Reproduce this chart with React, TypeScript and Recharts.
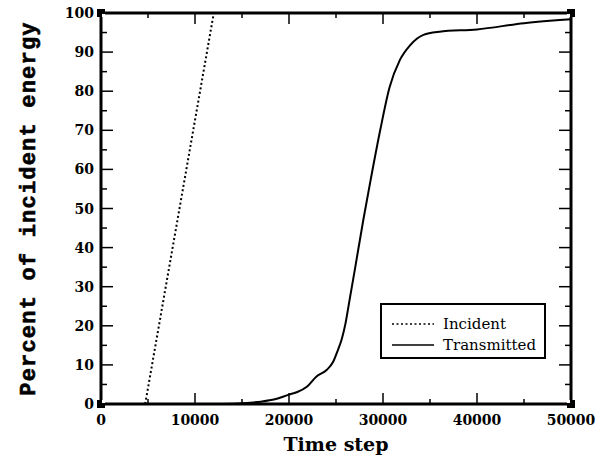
import {
  LineChart,
  Line,
  XAxis,
  YAxis,
  ReferenceArea,
  ReferenceDot,
  Legend,
  Label,
} from "recharts";

const X_TICKS = [0, 5000, 10000, 15000, 20000, 25000, 30000, 35000, 40000, 45000, 50000];
const Y_TICKS = [0, 5, 10, 15, 20, 25, 30, 35, 40, 45, 50, 55, 60, 65, 70, 75, 80, 85, 90, 95, 100];

const INCIDENT_X = [4700, 12000];
const INCIDENT_Y = [0, 100];

const TRANSMITTED_X = [
  13000, 15000, 17000, 18500, 20000, 20800, 21900, 22900, 24000, 24700, 25200, 25600, 26000,
  26400, 27000, 27900, 28700, 29700, 30700, 31800, 32900, 34300, 36000, 40000, 45000, 50000,
];
const TRANSMITTED_Y = [
  0, 0.2, 0.6, 1.2, 2.4, 3.0, 4.4, 7.0, 8.7, 10.8, 13.8, 16.5, 20.5,
  26.0, 34.3, 47.0, 57.5, 70.0, 81.0, 88.0, 91.8, 94.4, 95.2, 95.8, 97.4, 98.4,
];

const CORNERS = [
  [0, 0],
  [0, 100],
  [50000, 0],
  [50000, 100],
];

const incident = INCIDENT_X.map((x, i) => ({ x, y: INCIDENT_Y[i] }));
const transmitted = TRANSMITTED_X.map((x, i) => ({ x, y: TRANSMITTED_Y[i] }));

const W = 609;
const H = 468;
// plot box, in page pixels
const PLOT = { left: 101, right: 571, top: 13, bottom: 404 };
const NUM_FONT = "'DejaVu Serif', serif";

function XTick(props: any) {
  const { x, payload } = props;
  const v = payload.value as number;
  const major = v % 10000 === 0;
  const len = major ? 11 : 5;
  return (
    <g>
      <line x1={x} x2={x} y1={PLOT.bottom} y2={PLOT.bottom - len} stroke="#000" strokeWidth={1.5} />
      <line x1={x} x2={x} y1={PLOT.top} y2={PLOT.top + len} stroke="#000" strokeWidth={1.5} />
      {major && (
        <text
          x={x}
          y={PLOT.bottom + 21}
          textAnchor="middle"
          fontFamily={NUM_FONT}
          fontWeight="bold"
          fontSize={14}
          fill="#000"
        >
          {String(v)}
        </text>
      )}
    </g>
  );
}

function YTick(props: any) {
  const { y, payload } = props;
  const v = payload.value as number;
  const major = v % 10 === 0;
  const len = major ? 12 : 6;
  return (
    <g>
      <line x1={PLOT.left} x2={PLOT.left + len} y1={y} y2={y} stroke="#000" strokeWidth={1.5} />
      <line x1={PLOT.right} x2={PLOT.right - len} y1={y} y2={y} stroke="#000" strokeWidth={1.5} />
      {major && (
        <text
          x={PLOT.left - 7}
          y={y}
          textAnchor="end"
          dominantBaseline="central"
          fontFamily={NUM_FONT}
          fontWeight="bold"
          fontSize={14}
          fill="#000"
        >
          {String(v)}
        </text>
      )}
    </g>
  );
}

function YTitle() {
  const cx = 29;
  const cy = (PLOT.top + PLOT.bottom) / 2;
  return (
    <text
      x={cx}
      y={cy}
      transform={`rotate(-90 ${cx} ${cy})`}
      textAnchor="middle"
      dominantBaseline="central"
      fontFamily="'Liberation Mono', monospace"
      fontWeight="bold"
      fontSize={22}
      letterSpacing={1.2}
      stroke="#000"
      strokeWidth={0.6}
      fill="#000"
    >
      Percent of incident energy
    </text>
  );
}

function XTitle() {
  return (
    <text
      x={(PLOT.left + PLOT.right) / 2}
      y={PLOT.bottom + 47}
      textAnchor="middle"
      fontFamily={NUM_FONT}
      fontWeight="bold"
      fontSize={19}
      fill="#000"
    >
      Time step
    </text>
  );
}

function Corner(props: any) {
  const { cx, cy } = props;
  const dx = cx < (PLOT.left + PLOT.right) / 2 ? 1 : -4;
  const dy = cy < (PLOT.top + PLOT.bottom) / 2 ? 1 : -4;
  return (
    <g>
      <rect x={cx - 4} y={cy - 4} width={8} height={8} fill="#000" />
      <rect x={cx + dx} y={cy + dy} width={3} height={3} fill="#fff" />
    </g>
  );
}

function LegendBox() {
  const rows = [
    { name: "Incident", dash: "2 2.5" },
    { name: "Transmitted", dash: undefined },
  ];
  return (
    <svg width={166} height={56} style={{ display: "block" }}>
      {rows.map((r, i) => {
        const cy = 19 + i * 21;
        return (
          <g key={r.name}>
            <line x1={10} x2={52} y1={cy} y2={cy} stroke="#000" strokeWidth={1.6} strokeDasharray={r.dash} />
            <text
              x={61}
              y={cy}
              dominantBaseline="central"
              fontFamily={NUM_FONT}
              fontSize={15}
              fill="#000"
            >
              {r.name}
            </text>
          </g>
        );
      })}
    </svg>
  );
}

export default function App() {
  return (
    <div style={{ position: "absolute", left: 0, top: 0, width: W, height: H, background: "#fff" }}>
      <LineChart width={W} height={H} margin={{ top: PLOT.top, right: W - PLOT.right, left: 0, bottom: 0 }}>
        <XAxis
          type="number"
          dataKey="x"
          domain={[0, 50000]}
          ticks={X_TICKS}
          interval={0}
          tickLine={false}
          axisLine={false}
          tickSize={0}
          tick={<XTick />}
          height={H - PLOT.bottom}
          allowDataOverflow
        >
          <Label content={<XTitle />} />
        </XAxis>
        <YAxis
          type="number"
          dataKey="y"
          domain={[0, 100]}
          ticks={Y_TICKS}
          interval={0}
          tickLine={false}
          axisLine={false}
          tickSize={0}
          tick={<YTick />}
          width={PLOT.left}
          allowDataOverflow
        >
          <Label content={<YTitle />} />
        </YAxis>
        <Legend
          layout="horizontal"
          verticalAlign="middle"
          align="center"
          content={<LegendBox />}
          wrapperStyle={{
            position: "absolute",
            left: 380,
            top: 303,
            width: 166,
            height: 56,
            border: "2px solid #000",
            boxSizing: "border-box",
            background: "#fff",
          }}
        />
        <Line
          data={incident}
          dataKey="y"
          name="Incident"
          type="linear"
          stroke="#000"
          strokeWidth={2}
          strokeDasharray="2 2.5"
          dot={false}
          activeDot={false}
          isAnimationActive={false}
        />
        <Line
          data={transmitted}
          dataKey="y"
          name="Transmitted"
          type="monotone"
          stroke="#000"
          strokeWidth={2}
          dot={false}
          activeDot={false}
          isAnimationActive={false}
        />
        <ReferenceArea x1={0} x2={50000} y1={0} y2={100} fill="none" stroke="#000" strokeWidth={3} />
        {CORNERS.map(([x, y], i) => (
          <ReferenceDot key={i} x={x} y={y} r={4} shape={<Corner />} />
        ))}
      </LineChart>
    </div>
  );
}
